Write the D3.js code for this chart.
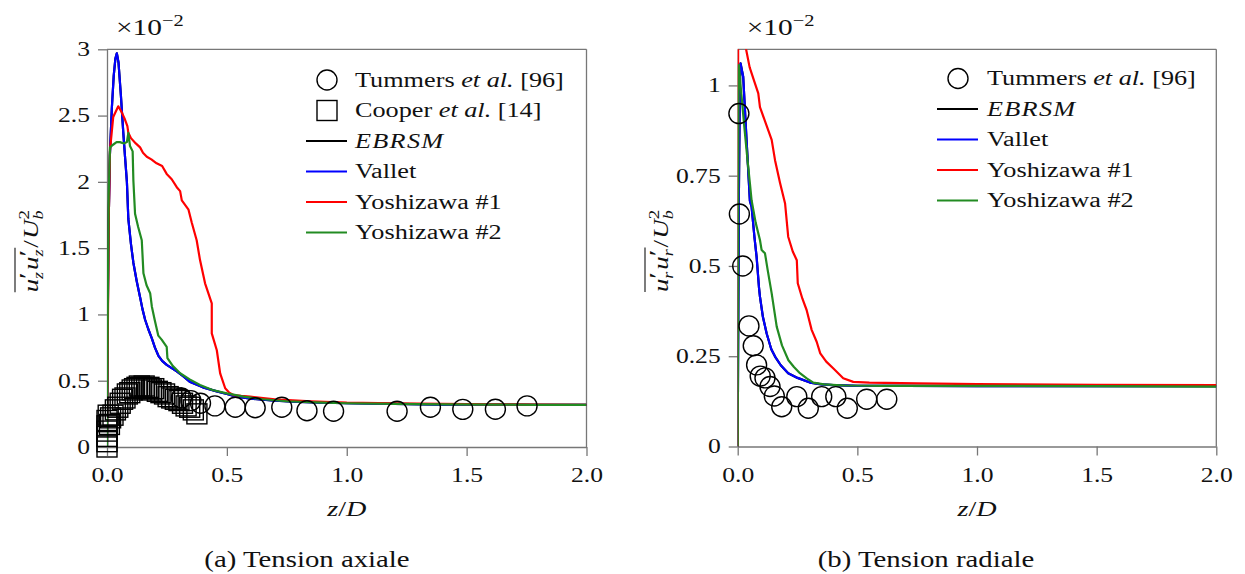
<!DOCTYPE html>
<html><head><meta charset="utf-8">
<script src="https://cdn.jsdelivr.net/npm/d3@7"></script>
<style>
body{margin:0;background:#fff}
svg{display:block}
text{font-family:"Liberation Serif","DejaVu Serif",serif;fill:#111}
</style>
</head><body>
<svg id="c" width="1245" height="574"></svg>
<script>
// ---------------- DATA (values in units of 1e-2) ----------------
const xTicks = [0, 0.5, 1, 1.5, 2];
const xTickLabels = ['0.0', '0.5', '1.0', '1.5', '2.0'];
const axialYTicks = [0, 0.5, 1, 1.5, 2, 2.5, 3];
const axialYTickLabels = ['0', '0.5', '1', '1.5', '2', '2.5', '3'];
const radialYTicks = [0, 0.25, 0.5, 0.75, 1];
const radialYTickLabels = ['0', '0.25', '0.5', '0.75', '1'];

const seriesNames = ['EBRSM', 'Vallet', 'Yoshizawa #1', 'Yoshizawa #2'];
const seriesColors = ['#000000', '#0000ff', '#ff0000', '#228b22'];
const captions = ['(a) Tension axiale', '(b) Tension radiale'];

// Axial panel
const axialTummersZ = [0.31, 0.35, 0.39, 0.45, 0.535, 0.618, 0.729, 0.834, 0.945, 1.21, 1.349, 1.484, 1.62, 1.752];
const axialTummersV = [0.37, 0.35, 0.33, 0.31, 0.30, 0.296, 0.30, 0.274, 0.27, 0.27, 0.30, 0.284, 0.285, 0.31];
const axialCooperZ = [0, 0, 0, 0, 0, 0, 0.005, 0.01, 0.015, 0.025, 0.035, 0.045, 0.055, 0.065, 0.075, 0.085, 0.095, 0.105, 0.115, 0.125, 0.135, 0.145, 0.155, 0.165, 0.175, 0.185, 0.195, 0.21, 0.225, 0.24, 0.255, 0.27, 0.285, 0.30, 0.315, 0.33, 0.345, 0.36, 0.375];
const axialCooperV = [0.0, 0.04, 0.08, 0.12, 0.16, 0.20, 0.24, 0.17, 0.22, 0.24, 0.28, 0.30, 0.33, 0.36, 0.37, 0.40, 0.41, 0.43, 0.44, 0.45, 0.46, 0.45, 0.46, 0.44, 0.45, 0.43, 0.44, 0.42, 0.41, 0.40, 0.38, 0.37, 0.36, 0.35, 0.33, 0.31, 0.30, 0.28, 0.25];

const axialEbrsmZ = [0, 0.003, 0.006, 0.012, 0.02, 0.028, 0.035, 0.041, 0.048, 0.058, 0.068, 0.076, 0.083, 0.089, 0.1, 0.11, 0.124, 0.138, 0.148, 0.159, 0.172, 0.187, 0.2, 0.214, 0.23, 0.249, 0.27, 0.291, 0.32, 0.347, 0.4, 0.458, 0.5, 0.54, 0.6, 0.7, 0.8, 0.9, 1.0, 1.2, 1.4, 1.6, 1.8, 2.0];
const axialEbrsmV = [0, 0.9, 1.6, 2.2, 2.55, 2.8, 2.93, 2.97, 2.9, 2.65, 2.37, 2.17, 2.0, 1.72, 1.53, 1.39, 1.25, 1.13, 1.04, 0.96, 0.89, 0.82, 0.75, 0.69, 0.65, 0.62, 0.595, 0.57, 0.53, 0.49, 0.45, 0.42, 0.40, 0.38, 0.365, 0.35, 0.34, 0.335, 0.33, 0.325, 0.32, 0.32, 0.318, 0.318];
const axialValletZ = [0, 0.003, 0.006, 0.012, 0.02, 0.028, 0.035, 0.041, 0.048, 0.058, 0.068, 0.076, 0.083, 0.089, 0.1, 0.11, 0.124, 0.138, 0.148, 0.159, 0.172, 0.187, 0.2, 0.214, 0.23, 0.249, 0.27, 0.291, 0.32, 0.347, 0.4, 0.458, 0.5, 0.54, 0.6, 0.7, 0.8, 0.9, 1.0, 1.2, 1.4, 1.6, 1.8, 2.0];
const axialValletV = [0, 0.9, 1.6, 2.2, 2.55, 2.8, 2.93, 2.97, 2.9, 2.65, 2.37, 2.17, 2.0, 1.72, 1.53, 1.39, 1.25, 1.13, 1.04, 0.96, 0.89, 0.82, 0.75, 0.69, 0.65, 0.62, 0.595, 0.57, 0.53, 0.49, 0.45, 0.42, 0.40, 0.38, 0.365, 0.35, 0.34, 0.335, 0.33, 0.325, 0.32, 0.32, 0.318, 0.318];
const axialYosh1Z = [0, 0.004, 0.008, 0.0125, 0.026, 0.047, 0.06, 0.075, 0.085, 0.089, 0.1, 0.12, 0.138, 0.15, 0.166, 0.185, 0.207, 0.23, 0.249, 0.27, 0.291, 0.305, 0.312, 0.34, 0.354, 0.374, 0.388, 0.409, 0.437, 0.437, 0.458, 0.472, 0.493, 0.51, 0.527, 0.56, 0.597, 0.7, 0.85, 1.0, 1.2, 1.4, 1.6, 1.8, 2.0];
const axialYosh1V = [0, 1.0, 1.8, 2.24, 2.49, 2.57, 2.53, 2.47, 2.42, 2.37, 2.33, 2.29, 2.26, 2.22, 2.19, 2.17, 2.14, 2.12, 2.06, 2.02, 1.96, 1.93, 1.86, 1.79, 1.69, 1.56, 1.41, 1.235, 1.084, 0.857, 0.73, 0.556, 0.443, 0.41, 0.392, 0.385, 0.38, 0.36, 0.345, 0.335, 0.33, 0.325, 0.322, 0.32, 0.318];
const axialYosh2Z = [0, 0.003, 0.007, 0.0125, 0.025, 0.04, 0.054, 0.07, 0.083, 0.089, 0.096, 0.107, 0.11, 0.117, 0.13, 0.145, 0.152, 0.165, 0.18, 0.187, 0.2, 0.214, 0.228, 0.249, 0.252, 0.275, 0.305, 0.345, 0.388, 0.44, 0.5, 0.57, 0.65, 0.75, 0.9, 1.0, 1.2, 1.4, 1.6, 1.8, 2.0];
const axialYosh2V = [0, 1.0, 1.9, 2.26, 2.28, 2.30, 2.30, 2.29, 2.30, 2.37, 2.27, 2.23, 2.01, 1.76, 1.66, 1.56, 1.31, 1.22, 1.16, 1.06, 0.95, 0.84, 0.81, 0.756, 0.67, 0.61, 0.556, 0.51, 0.468, 0.43, 0.405, 0.38, 0.36, 0.345, 0.335, 0.33, 0.325, 0.322, 0.32, 0.318, 0.318];

// Radial panel
const radialTummersZ = [0.005, 0.007, 0.021, 0.047, 0.065, 0.079, 0.094, 0.114, 0.135, 0.153, 0.184, 0.247, 0.295, 0.351, 0.41, 0.458, 0.539, 0.623];
const radialTummersV = [0.922, 0.644, 0.50, 0.334, 0.279, 0.226, 0.195, 0.19, 0.166, 0.14, 0.11, 0.138, 0.106, 0.138, 0.138, 0.106, 0.131, 0.131];

const radialEbrsmZ = [0, 0.002, 0.005, 0.009, 0.012, 0.023, 0.037, 0.051, 0.058, 0.07, 0.079, 0.089, 0.093, 0.105, 0.121, 0.14, 0.156, 0.18, 0.211, 0.25, 0.302, 0.35, 0.4, 0.5, 0.7, 1.0, 1.5, 2.0];
const radialEbrsmV = [0, 0.3, 0.7, 1.0, 1.061, 1.024, 0.849, 0.68, 0.664, 0.58, 0.525, 0.44, 0.415, 0.36, 0.313, 0.27, 0.249, 0.225, 0.203, 0.19, 0.177, 0.172, 0.170, 0.168, 0.168, 0.167, 0.167, 0.167];
const radialValletZ = [0, 0.002, 0.005, 0.009, 0.012, 0.023, 0.037, 0.051, 0.058, 0.07, 0.079, 0.089, 0.093, 0.105, 0.121, 0.14, 0.156, 0.18, 0.211, 0.25, 0.302, 0.35, 0.4, 0.5, 0.7, 1.0, 1.5, 2.0];
const radialValletV = [0, 0.3, 0.7, 1.0, 1.061, 1.024, 0.849, 0.68, 0.664, 0.58, 0.525, 0.44, 0.415, 0.36, 0.313, 0.27, 0.249, 0.225, 0.203, 0.19, 0.177, 0.172, 0.170, 0.168, 0.168, 0.167, 0.167, 0.167];
const radialYosh1Z = [0, 0.001, 0.002, 0.02, 0.035, 0.05, 0.07, 0.086, 0.093, 0.12, 0.142, 0.156, 0.177, 0.198, 0.211, 0.23, 0.247, 0.251, 0.27, 0.288, 0.309, 0.33, 0.345, 0.37, 0.40, 0.441, 0.483, 0.55, 0.75, 1.0, 1.5, 2.0];
const radialYosh1V = [0, 0.6, 1.2, 1.25, 1.1, 1.05, 1.01, 0.978, 0.94, 0.89, 0.849, 0.793, 0.73, 0.673, 0.581, 0.54, 0.516, 0.452, 0.41, 0.378, 0.323, 0.29, 0.258, 0.235, 0.216, 0.189, 0.179, 0.177, 0.175, 0.173, 0.171, 0.17];
const radialYosh2Z = [0, 0.001, 0.002, 0.003, 0.005, 0.012, 0.027, 0.04, 0.051, 0.058, 0.075, 0.093, 0.1, 0.114, 0.125, 0.142, 0.163, 0.185, 0.212, 0.235, 0.26, 0.29, 0.316, 0.36, 0.45, 0.6, 1.0, 1.5, 2.0];
const radialYosh2V = [0, 0.3, 0.7, 0.95, 1.056, 1.0, 0.89, 0.8, 0.729, 0.682, 0.62, 0.572, 0.544, 0.535, 0.49, 0.424, 0.332, 0.28, 0.239, 0.22, 0.203, 0.188, 0.177, 0.172, 0.169, 0.168, 0.168, 0.167, 0.166];

// ---------------- DRAWING ----------------
const SX = 1.28;           // horizontal stretch of the serif text (matches the wide TeX font)
const AX = '#777';
const svg = d3.select('#c');

function stext(parent, x, y, anchor, size) {
  return parent.append('text')
    .attr('transform', `translate(${x},${y}) scale(${SX},1)`)
    .attr('text-anchor', anchor)
    .style('font-size', size + 'px');
}

function richLine(parent, x, y, parts, size, anchor) {
  const t = stext(parent, x, y, anchor || 'start', size);
  parts.forEach(p => t.append('tspan').style('font-style', p.i ? 'italic' : 'normal').text(p.t));
  return t;
}

function mathLabel(tyStr, pieces, overlineCount) {
  const g = svg.append('g').attr('transform', tyStr);
  const inner = g.append('g').attr('transform', `scale(${SX},1)`);
  let xpos = 0, olEnd = 0;
  const add = (str, size, dy, it) => inner.append('text').attr('x', xpos).attr('y', dy)
      .style('font-size', size + 'px').style('font-style', it ? 'italic' : 'normal').text(str);
  pieces.forEach((p, k) => {
    if (p.stack) {
      const prime = p.sup === '′';
      const a = prime ? add(p.sup, 24, -3, false) : add(p.sup, 15, -9, p.supI);
      const b = add(p.sub, 14, 5, p.subI);
      xpos += Math.max(a.node().getComputedTextLength(), b.node().getComputedTextLength()) + 1.5;
    } else {
      const t = add(p.t, 21, 0, p.i);
      xpos += t.node().getComputedTextLength() + (p.pad || 0);
    }
    if (k === overlineCount - 1) olEnd = xpos;
  });
  const total = xpos;
  inner.selectAll('text').attr('x', function () { return +this.getAttribute('x') - total / 2; });
  if (overlineCount) {
    inner.append('line').attr('x1', -total / 2).attr('x2', olEnd - total / 2)
      .attr('y1', -23).attr('y2', -23).attr('stroke', '#111').attr('stroke-width', 1.1);
  }
  return g;
}

function panel(cfg) {
  const x = d3.scaleLinear().domain([0, 2]).range([cfg.left, cfg.right]);
  const y = d3.scaleLinear().domain([0, cfg.ymax]).range([cfg.bottom, cfg.top]);
  const g = svg.append('g');
  const cid = 'clip' + cfg.id;
  svg.append('clipPath').attr('id', cid).append('rect')
    .attr('x', cfg.left).attr('y', cfg.top)
    .attr('width', cfg.right - cfg.left).attr('height', cfg.bottom - cfg.top);

  // frame (top & right)
  g.append('line').attr('x1', x(0)).attr('x2', x(2)).attr('y1', y(cfg.ymax)).attr('y2', y(cfg.ymax))
    .attr('stroke', AX).attr('stroke-width', 1.3);
  g.append('line').attr('x1', x(2)).attr('x2', x(2)).attr('y1', y(0)).attr('y2', y(cfg.ymax))
    .attr('stroke', AX).attr('stroke-width', 1.3);

  const xa = d3.axisBottom(x).tickValues(xTicks).tickFormat((d, i) => xTickLabels[i])
    .tickSize(9).tickSizeOuter(0).tickPadding(12);
  const gx = g.append('g').attr('transform', `translate(0,${cfg.bottom})`).call(xa);
  const ya = d3.axisLeft(y).tickValues(cfg.yTicks).tickFormat((d, i) => cfg.yLabels[i])
    .tickSize(9).tickSizeOuter(0).tickPadding(8);
  const gy = g.append('g').attr('transform', `translate(${cfg.left},0)`).call(ya);
  [gx, gy].forEach(a => {
    a.attr('font-family', null).attr('font-size', null);
    a.selectAll('.domain, .tick line').attr('stroke', AX).attr('stroke-width', 1.3);
    a.selectAll('text').style('font-size', '20px').attr('fill', '#111')
      .attr('x', function () { return (+this.getAttribute('x') || 0) / SX; })
      .attr('transform', `scale(${SX},1)`);
  });

  // curves
  const line = d3.line().x(d => x(d[0])).y(d => y(d[1]));
  const lg = g.append('g').attr('clip-path', `url(#${cid})`);
  cfg.series.forEach((s, i) => {
    lg.append('path').datum(d3.zip(s[0], s[1])).attr('d', line)
      .attr('fill', 'none').attr('stroke', seriesColors[i]).attr('stroke-width', 2.2)
      .attr('stroke-linejoin', 'round');
  });

  // markers
  const mg = g.append('g').attr('fill', 'none').attr('stroke', '#000').attr('stroke-width', 1.4);
  if (cfg.squares) {
    mg.selectAll('rect.sq').data(d3.zip(cfg.squares[0], cfg.squares[1])).join('rect')
      .attr('x', d => x(d[0]) - 10).attr('y', d => y(d[1]) - 10)
      .attr('width', 20).attr('height', 20);
  }
  mg.selectAll('circle').data(d3.zip(cfg.circles[0], cfg.circles[1])).join('circle')
    .attr('cx', d => x(d[0])).attr('cy', d => y(d[1])).attr('r', 10);

  // exponent label
  const ex = stext(g, x(0) + 9, 35, 'start', 23);
  ex.append('tspan').text('×10');
  ex.append('tspan').attr('dy', -9).style('font-size', '16px').text('−2');

  // legend
  const L = cfg.legend;
  const leg = g.append('g');
  let row = 0;
  const step = 30.5;
  cfg.markerLegend.forEach(m => {
    const ry = L.y + row * step;
    if (m.type === 'circle') {
      leg.append('circle').attr('cx', L.mx).attr('cy', ry).attr('r', 10)
        .attr('fill', 'none').attr('stroke', '#000').attr('stroke-width', 1.4);
    } else {
      leg.append('rect').attr('x', L.mx - 10).attr('y', ry - 10).attr('width', 20).attr('height', 20)
        .attr('fill', 'none').attr('stroke', '#000').attr('stroke-width', 1.4);
    }
    richLine(leg, L.tx, ry + 6.5, m.parts, 20.5);
    row++;
  });
  seriesNames.forEach((n, i) => {
    const ry = L.y + row * step;
    leg.append('line').attr('x1', L.lx1).attr('x2', L.lx2).attr('y1', ry).attr('y2', ry)
      .attr('stroke', seriesColors[i]).attr('stroke-width', 2.2);
    const t = richLine(leg, L.tx, ry + 6.5, [{ t: n, i: i === 0 }], 20.5);
    if (i === 0) t.style('letter-spacing', '1px');
    row++;
  });

  // x label
  const cx = (cfg.left + cfg.right) / 2;
  richLine(g, cx, 516, [{ t: 'z', i: true }, { t: '/' }, { t: 'D', i: true }], 22, 'middle');
  // caption
  richLine(g, cfg.capX, 567, [{ t: cfg.caption }], 22.5, 'middle');

  // y label
  const sub = cfg.sub;
  mathLabel(`translate(${cfg.ylabX},${(cfg.top + cfg.bottom) / 2 + 2}) rotate(-90)`, [
    { t: 'u', i: true }, { stack: true, sup: '′', sub: sub, subI: true },
    { t: 'u', i: true }, { stack: true, sup: '′', sub: sub, subI: true },
    { t: '/', pad: 1 }, { t: 'U', i: true }, { stack: true, sup: '2', sub: 'b', subI: true }
  ], 4);
}

const tumParts = [{ t: 'Tummers ' }, { t: 'et al.', i: true }, { t: ' [96]' }];
const coopParts = [{ t: 'Cooper ' }, { t: 'et al.', i: true }, { t: ' [14]' }];

panel({
  id: 'a', left: 107, right: 586.5, top: 49.3, bottom: 447, ymax: 3,
  yTicks: axialYTicks, yLabels: axialYTickLabels,
  series: [[axialEbrsmZ, axialEbrsmV], [axialValletZ, axialValletV], [axialYosh1Z, axialYosh1V], [axialYosh2Z, axialYosh2V]],
  circles: [axialTummersZ, axialTummersV], squares: [axialCooperZ, axialCooperV],
  markerLegend: [{ type: 'circle', parts: tumParts }, { type: 'square', parts: coopParts }],
  legend: { y: 80, mx: 327, lx1: 306, lx2: 347, tx: 355 },
  caption: captions[0], capX: 307, sub: 'z', ylabX: 38
});
panel({
  id: 'b', left: 737.7, right: 1216.3, top: 49.3, bottom: 446.5, ymax: 1.1,
  yTicks: radialYTicks, yLabels: radialYTickLabels,
  series: [[radialEbrsmZ, radialEbrsmV], [radialValletZ, radialValletV], [radialYosh1Z, radialYosh1V], [radialYosh2Z, radialYosh2V]],
  circles: [radialTummersZ, radialTummersV],
  markerLegend: [{ type: 'circle', parts: tumParts }],
  legend: { y: 78.5, mx: 958, lx1: 937, lx2: 978, tx: 987 },
  caption: captions[1], capX: 926, sub: 'r', ylabX: 668
});
</script>
</body></html>
